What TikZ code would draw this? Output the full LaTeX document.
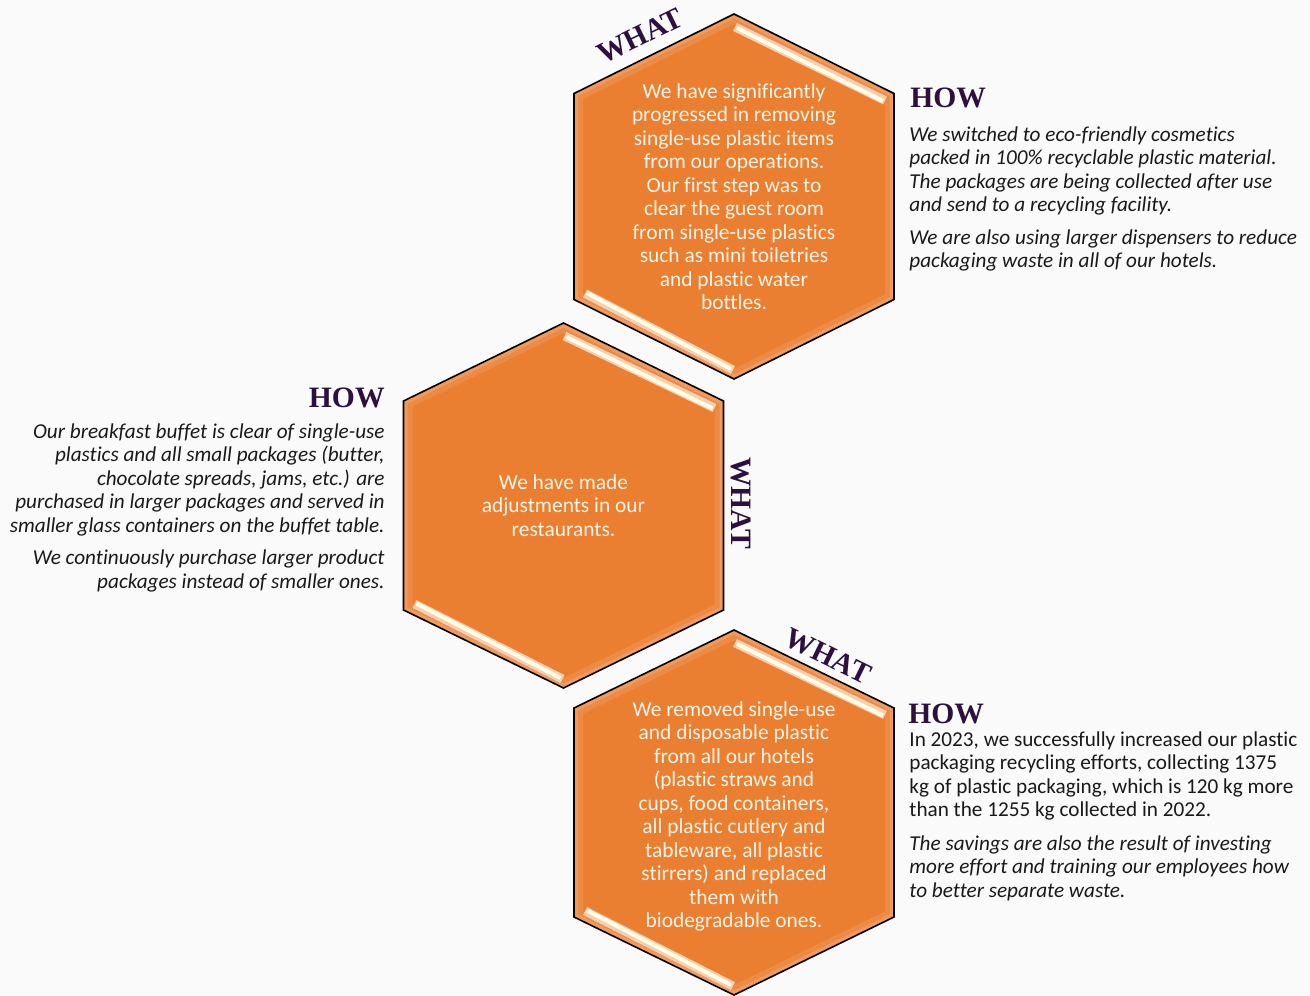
\documentclass[tikz,border=0pt]{standalone}
\usepackage{fontspec}
\setmainfont{Carlito}[Ligatures=NoCommon]
\newfontfamily\headfont{Liberation Serif}
\usetikzlibrary{positioning}
\definecolor{hexorange}{HTML}{EB7F31}
\definecolor{glowc}{HTML}{F6B98C}
\definecolor{headpurple}{HTML}{2D1040}
\definecolor{hextext}{HTML}{FFF4E8}
\definecolor{bgc}{HTML}{FAFAFA}
\tikzset{
  head/.style={font=\headfont\bfseries\fontsize{14.8}{16}\selectfont, text=headpurple, inner sep=0pt},
  hexlabel/.style={font=\fontsize{10.7}{11.75}\selectfont, text=hextext, align=center, inner sep=0pt},
  side/.style={font=\itshape\fontsize{10.6}{11.75}\selectfont, text=black!90, inner sep=0pt},
  glinthalo/.style={line width=4.4pt, glowc!70!white},
  glint/.style={line width=2pt, white!92!yellow},
}
\begin{document}
\begin{tikzpicture}[x=0.5pt, y=-0.5pt]
		\fill[bgc] (0,0) rectangle (1310,995);
		\useasboundingbox (0,0) rectangle (1310,995);
		\foreach \cx/\cy/\s/\nm in {734/196.5/103/A, 563.5/505.5/104.5/B, 734/812.5/104.5/C}{
			\coordinate (hex\nm-n) at (\cx,{\cy-182.5});
			\coordinate (hex\nm-ne) at ({\cx+160},{\cy-\s});
			\coordinate (hex\nm-se) at ({\cx+160},{\cy+\s});
			\coordinate (hex\nm-s) at (\cx,{\cy+182.5});
			\coordinate (hex\nm-sw) at ({\cx-160},{\cy+\s});
			\coordinate (hex\nm-nw) at ({\cx-160},{\cy-\s});
			\begin{scope}
				\clip (hex\nm-n) -- (hex\nm-ne) -- (hex\nm-se) -- (hex\nm-s) -- (hex\nm-sw) -- (hex\nm-nw) -- cycle;
				\fill[hexorange] (hex\nm-n) -- (hex\nm-ne) -- (hex\nm-se) -- (hex\nm-s) -- (hex\nm-sw) -- (hex\nm-nw) -- cycle;
				\draw[glowc, line width=9pt, opacity=0.2] (hex\nm-n) -- (hex\nm-ne) -- (hex\nm-se) -- (hex\nm-s) -- (hex\nm-sw) -- (hex\nm-nw) -- cycle;
				\draw[glowc, line width=4pt, opacity=0.35] (hex\nm-n) -- (hex\nm-ne) -- (hex\nm-se) -- (hex\nm-s) -- (hex\nm-sw) -- (hex\nm-nw) -- cycle;
			\end{scope}
			\draw[line width=0.8pt] (hex\nm-n) -- (hex\nm-ne) -- (hex\nm-se) -- (hex\nm-s) -- (hex\nm-sw) -- (hex\nm-nw) -- cycle;
			\draw[glinthalo] ({\cx+1},{\cy-169.5}) -- ({\cx+151},{\cy-\s+7});
			\draw[glint] ({\cx+3},{\cy-168.5}) -- ({\cx+149},{\cy-\s+7.5});
			\draw[glinthalo] ({\cx-149},{\cy+\s-6}) -- ({\cx-1},{\cy+173.5});
			\draw[glint] ({\cx-147},{\cy+\s-6.5}) -- ({\cx-3},{\cy+172.5});
		}
		\node[hexlabel, anchor=north] (textA) at (734,83) {We have significantly\\progressed in removing\\single-use plastic items\\from our operations.\\Our first step was to\\clear the guest room\\from single-use plastics\\such as mini toiletries\\and plastic water\\bottles.};
		\node[hexlabel, anchor=north] (textB) at (563.5,474) {We have made\\adjustments in our\\restaurants.};
		\node[hexlabel, anchor=north] (textC) at (734,701) {We removed single-use\\and disposable plastic\\from all our hotels\\(plastic straws and\\cups, food containers,\\all plastic cutlery and\\tableware, all plastic\\stirrers) and replaced\\them with\\biodegradable ones.};
		\node[head, rotate=26] (whatA) at (640,36) {WHAT};
		\node[head, rotate=-90] (whatB) at (741,503) {WHAT};
		\node[head, rotate=-26] (whatC) at (828,656) {WHAT};
		\node[head, anchor=west] (howA) at (910,98) {HOW};
		\node[side, anchor=north west, align=left] (sideA) at (909,126) {We switched to eco-friendly cosmetics\\packed in 100\% recyclable plastic material.\\The packages are being collected after use\\and send to a recycling facility.\\[4.5pt]We are also using larger dispensers to reduce\\packaging waste in all of our hotels.};
		\node[head, anchor=east] (howB) at (385,398) {HOW};
		\node[side, anchor=north east, align=right] (sideB) at (385,423) {Our breakfast buffet is clear of single-use\\plastics and all small packages (butter,\\chocolate spreads, jams, etc.) are\\purchased in larger packages and served in\\smaller glass containers on the buffet table.\\[4.5pt]We continuously purchase larger product\\packages instead of smaller ones.};
		\node[head, anchor=west] (howC) at (908,714) {HOW};
		\node[side, anchor=north west, align=left, font=\upshape\fontsize{10.6}{11.75}\selectfont] (sideC) at (909,731) {In 2023, we successfully increased our plastic\\packaging recycling efforts, collecting 1375\\kg of plastic packaging, which is 120 kg more\\than the 1255 kg collected in 2022.};
		\node[side, anchor=north west, align=left] (sideD) at (909,835) {The savings are also the result of investing\\more effort and training our employees how\\to better separate waste.};
\end{tikzpicture}
\end{document}
